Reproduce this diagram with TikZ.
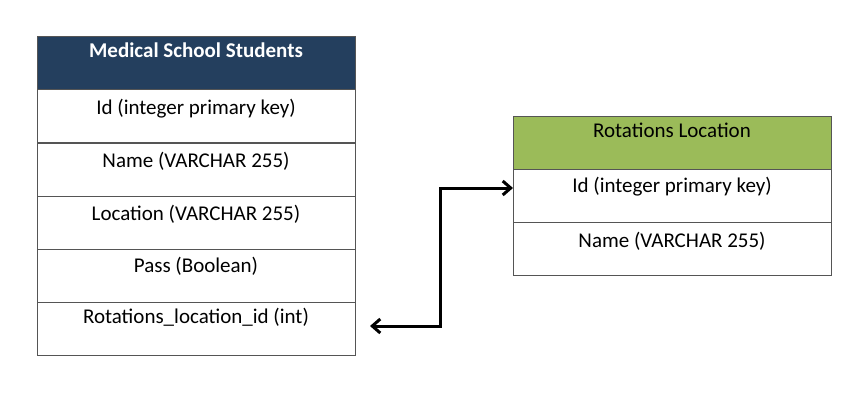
\documentclass[tikz,border=0pt]{standalone}
\usepackage{fontspec}
\setmainfont{Carlito}
\usetikzlibrary{arrows.meta}
\definecolor{hdrblue}{HTML}{243F5E}
\definecolor{hdrgreen}{HTML}{9BBB59}
\definecolor{edge}{HTML}{555555}
\tikzset{
  cell/.style={draw=edge, line width=0.9pt, fill=white, minimum width=318pt, minimum height=53pt, inner sep=0pt, outer sep=0pt, anchor=north west},
  celltext/.style={anchor=base, font=\fontsize{21}{24}\selectfont, inner sep=0pt},
  link/.style={line width=3pt, {Straight Barb[length=8pt,width=14pt,line width=3pt]}-{Straight Barb[length=8pt,width=14pt,line width=3pt]}}
}
\begin{document}
\begin{tikzpicture}[x=1pt,y=-1pt]
\useasboundingbox (0,0) rectangle (859,408);
% left table
\node[cell, fill=hdrblue] (mh) at (37,36) {};
\node[cell] (m1) at (37,89) {};
\node[cell] (m2) at (37,143) {};
\node[cell] (m3) at (37,196) {};
\node[cell] (m4) at (37,249) {};
\node[cell] (m5) at (37,302) {};
\node[celltext, text=white, font=\fontsize{21}{24}\selectfont\bfseries] (tmh) at ([yshift=-21pt]mh.north) {Medical School Students};
\node[celltext] (tm1) at ([yshift=-25pt]m1.north) {Id (integer primary key)};
\node[celltext] (tm2) at ([yshift=-24pt]m2.north) {Name (VARCHAR 255)};
\node[celltext] (tm3) at ([yshift=-24pt]m3.north) {Location (VARCHAR 255)};
\node[celltext] (tm4) at ([yshift=-23pt]m4.north) {Pass (Boolean)};
\node[celltext] (tm5) at ([yshift=-21pt]m5.north) {Rotations\_location\_id (int)};
% right table
\node[cell, fill=hdrgreen] (rh) at (513,116) {};
\node[cell] (r1) at (513,169) {};
\node[cell] (r2) at (513,222) {};
\node[celltext] (trh) at ([yshift=-21pt]rh.north) {Rotations Location};
\node[celltext] (tr1) at ([yshift=-23pt]r1.north) {Id (integer primary key)};
\node[celltext] (tr2) at ([yshift=-25pt]r2.north) {Name (VARCHAR 255)};
% connector
\coordinate (a) at (370,326);
\coordinate (b) at (440,326);
\coordinate (c) at (r1.west |- 0,188);
\draw[link, line join=miter] (a) -- (b) |- (c);
\end{tikzpicture}
\end{document}
